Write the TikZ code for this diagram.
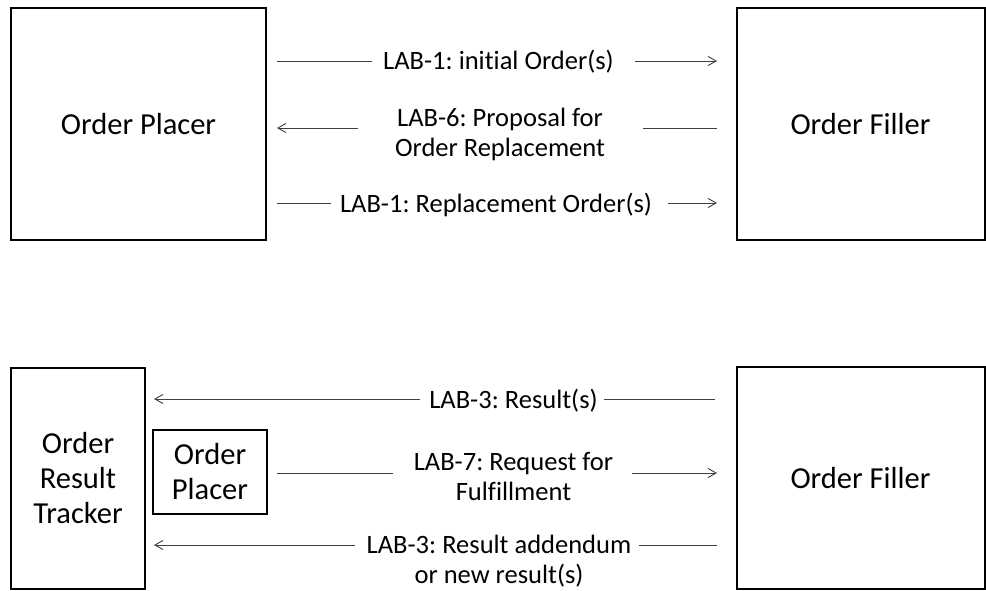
\documentclass[tikz,border=0pt]{standalone}
\usepackage{fontspec}
\setmainfont{Carlito}[Ligatures={NoCommon}]
\frenchspacing
\usetikzlibrary{arrows.meta}
\begin{document}
\begin{tikzpicture}[x=1pt,y=-1pt,
  actor/.style={draw=black,line width=2pt,inner sep=0pt,align=center,
    font=\fontsize{30.5}{35}\selectfont},
  msgtext/.style={inner sep=0pt,align=center,anchor=base,
    font=\fontsize{26.5}{30}\selectfont},
  msg/.style={draw=black!75,line width=0.9pt},
  msgarrow/.style={msg,-{Straight Barb[length=8pt,width=9pt,line width=0.9pt]}}]
\useasboundingbox (0,0) rectangle (986,591);
% ---------- top diagram ----------
\node[actor,minimum width=255pt,minimum height=232pt] (op) at (138.5,124) {Order Placer};
\node[actor,minimum width=248pt,minimum height=232pt] (of) at (860.5,124) {Order Filler};

\node[msgtext] (t1) at (498.5,70) {LAB-1: initial Order(s)};
\node[msgtext] (t2) at (500,157) {LAB-6: Proposal for\\Order Replacement};
\node[msgtext] (t3) at (496,212) {LAB-1: Replacement Order(s)};

\coordinate (t1a) at (277,61);  \coordinate (t1b) at (372,61);
\coordinate (t1c) at (635,61);  \coordinate (t1d) at (717,61);
\draw[msg] (t1a) -- (t1b);
\draw[msgarrow] (t1c) -- (t1d);

\coordinate (t2a) at (358,128); \coordinate (t2b) at (277,128);
\coordinate (t2c) at (643,128); \coordinate (t2d) at (717,128);
\draw[msgarrow] (t2a) -- (t2b);
\draw[msg] (t2c) -- (t2d);

\coordinate (t3a) at (277,203); \coordinate (t3b) at (331,203);
\coordinate (t3c) at (668,203); \coordinate (t3d) at (717,203);
\draw[msg] (t3a) -- (t3b);
\draw[msgarrow] (t3c) -- (t3d);

% ---------- bottom diagram ----------
\node[actor,minimum width=134pt,minimum height=221pt] (ort) at (78,478.5) {Order\\Result\\Tracker};
\node[actor,minimum width=114pt,minimum height=84pt] (op2) at (210,472) {Order\\Placer};
\node[actor,minimum width=248pt,minimum height=222pt] (of2) at (860.5,478) {Order Filler};

\node[msgtext] (b1) at (513.5,408) {LAB-3: Result(s)};
\node[msgtext] (b2) at (513.5,500) {LAB-7: Request for\\Fulfillment};
\node[msgtext] (b3) at (499,583) {LAB-3: Result addendum\\or new result(s)};

\coordinate (b1a) at (420,399); \coordinate (b1b) at (154,399);
\coordinate (b1c) at (604,399); \coordinate (b1d) at (715,399);
\draw[msgarrow] (b1a) -- (b1b);
\draw[msg] (b1c) -- (b1d);

\coordinate (b2a) at (277,473); \coordinate (b2b) at (393,473);
\coordinate (b2c) at (632,473); \coordinate (b2d) at (717,473);
\draw[msg] (b2a) -- (b2b);
\draw[msgarrow] (b2c) -- (b2d);

\coordinate (b3a) at (355,545); \coordinate (b3b) at (154,545);
\coordinate (b3c) at (639,545); \coordinate (b3d) at (717,545);
\draw[msgarrow] (b3a) -- (b3b);
\draw[msg] (b3c) -- (b3d);
\end{tikzpicture}
\end{document}
